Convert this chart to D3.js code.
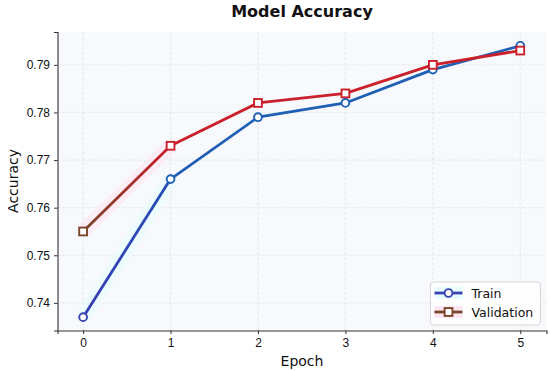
<!DOCTYPE html>
<html>
<head>
<meta charset="utf-8">
<script src="https://cdn.jsdelivr.net/npm/d3@7"></script>
<style>
  body { margin: 0; background: #fff; }
  svg { font-family: "DejaVu Sans", sans-serif; }
</style>
</head>
<body>
<svg id="chart" width="550" height="371"></svg>
<script>
  var epochs = [0, 1, 2, 3, 4, 5];
  var trainAcc = [0.737, 0.766, 0.779, 0.782, 0.789, 0.794];
  var valAcc = [0.755, 0.773, 0.782, 0.784, 0.790, 0.793];
  var yTicks = [0.74, 0.75, 0.76, 0.77, 0.78, 0.79];

  var svg = d3.select("#chart");
  var margin = { left: 57.5, right: 3.5, top: 32, bottom: 40.5 };
  var W = 550, H = 371;

  var x = d3.scaleLinear().domain([-0.293, 5.3]).range([margin.left, W - margin.right]);
  var y = d3.scaleLinear().domain([0.7342, 0.7969]).range([H - margin.bottom, margin.top]);

  // plot background
  svg.append("rect")
    .attr("x", margin.left).attr("y", margin.top)
    .attr("width", W - margin.right - margin.left)
    .attr("height", H - margin.bottom - margin.top)
    .attr("fill", "#f7f9fc");

  // grid
  var grid = svg.append("g").attr("stroke", "#dcdfe4").attr("stroke-dasharray", "3,2").attr("stroke-width", 0.7);
  grid.selectAll("line.gx").data(epochs).enter().append("line")
    .attr("x1", function(d) { return x(d); }).attr("x2", function(d) { return x(d); })
    .attr("y1", margin.top).attr("y2", H - margin.bottom);
  grid.selectAll("line.gy").data(yTicks).enter().append("line")
    .attr("y1", function(d) { return y(d); }).attr("y2", function(d) { return y(d); })
    .attr("x1", margin.left).attr("x2", W - margin.right);

  // axes
  var xAxis = svg.append("g")
    .attr("transform", "translate(0," + (H - margin.bottom) + ")")
    .call(d3.axisBottom(x).tickValues(epochs).tickFormat(d3.format("d")).tickSizeOuter(0).tickSize(3.5).tickPadding(4));
  var yAxis = svg.append("g")
    .attr("transform", "translate(" + margin.left + ",0)")
    .call(d3.axisLeft(y).tickValues(yTicks).tickFormat(d3.format(".2f")).tickSizeOuter(0).tickSize(3.5).tickPadding(4));
  [xAxis, yAxis].forEach(function(a) {
    a.select(".domain").attr("stroke", "#333").attr("stroke-width", 1.1);
    a.selectAll(".tick line").attr("stroke", "#333");
    a.selectAll(".tick text").attr("fill", "#111").style("font-size", "12px");
  });

  // gradients for the first segment
  var defs = svg.append("defs");
  function grad(id, i, data, c0, c1) {
    var g = defs.append("linearGradient").attr("id", id)
      .attr("gradientUnits", "userSpaceOnUse")
      .attr("x1", x(epochs[i])).attr("y1", y(data[i]))
      .attr("x2", x(epochs[i + 1])).attr("y2", y(data[i + 1]));
    g.append("stop").attr("offset", "0%").attr("stop-color", c0);
    g.append("stop").attr("offset", "100%").attr("stop-color", c1);
  }
  grad("gTrain", 0, trainAcc, "#3a3cb2", "#2150b4");
  grad("gVal", 0, valAcc, "#7a4528", "#c8202a");

  var series = [
    { name: "Train", data: trainAcc, color: "#1f5fb4", first: "url(#gTrain)", legend: "#3a45b2", halo: "#e8fbfd", shape: "circle" },
    { name: "Validation", data: valAcc, color: "#c9202b", first: "url(#gVal)", legend: "#7a4528", halo: "#fde8f2", shape: "square" }
  ];

  var line = d3.line()
    .x(function(d) { return x(d[0]); })
    .y(function(d) { return y(d[1]); });

  // faint halo round the first segments
  series.forEach(function(s) {
    var pts = epochs.map(function(e, i) { return [e, s.data[i]]; });
    svg.append("path").datum(pts.slice(0, 2))
      .attr("d", line).attr("fill", "none")
      .attr("stroke", s.halo).attr("stroke-width", 14).attr("stroke-opacity", 0.8);
  });

  series.forEach(function(s) {
    var pts = epochs.map(function(e, i) { return [e, s.data[i]]; });
    svg.append("path").datum(pts.slice(1))
      .attr("d", line).attr("fill", "none")
      .attr("stroke", s.color).attr("stroke-width", 2.8).attr("stroke-linejoin", "round");
    svg.append("path").datum(pts.slice(0, 2))
      .attr("d", line).attr("fill", "none")
      .attr("stroke", s.first).attr("stroke-width", 2.8);
  });

  function drawMarker(g, shape, cx, cy, color) {
    if (shape === "circle") {
      g.append("circle").attr("cx", cx).attr("cy", cy).attr("r", 3.9)
        .attr("fill", "#fff").attr("stroke", color).attr("stroke-width", 1.9);
    } else {
      g.append("rect").attr("x", cx - 3.9).attr("y", cy - 3.9).attr("width", 7.8).attr("height", 7.8)
        .attr("fill", "#fff").attr("stroke", color).attr("stroke-width", 1.9);
    }
  }

  series.forEach(function(s) {
    var g = svg.append("g");
    s.data.forEach(function(v, i) {
      drawMarker(g, s.shape, x(epochs[i]), y(v), i === 0 ? s.legend : s.color);
    });
  });

  // title and labels
  svg.append("text").attr("x", 302).attr("y", 17).attr("text-anchor", "middle")
    .style("font-size", "16px").style("font-weight", "bold").attr("fill", "#111").text("Model Accuracy");
  svg.append("text").attr("x", 302).attr("y", 366).attr("text-anchor", "middle")
    .style("font-size", "14px").attr("fill", "#111").text("Epoch");
  svg.append("text").attr("transform", "translate(17.5," + 181 + ") rotate(-90)").attr("text-anchor", "middle")
    .style("font-size", "14px").attr("fill", "#111").text("Accuracy");

  // legend
  var lg = svg.append("g").attr("transform", "translate(430.5,282)");
  lg.append("rect").attr("width", 110).attr("height", 43).attr("rx", 3)
    .attr("fill", "#fff").attr("fill-opacity", 0.85).attr("stroke", "#ccc").attr("stroke-width", 0.8);
  series.forEach(function(s, i) {
    var cy = 11 + i * 19;
    lg.append("rect").attr("x", 4).attr("y", cy - 6).attr("width", 28).attr("height", 12).attr("fill", s.halo);
    lg.append("line").attr("x1", 4).attr("x2", 32).attr("y1", cy).attr("y2", cy)
      .attr("stroke", s.legend).attr("stroke-width", 2.8);
    drawMarker(lg, s.shape, 18, cy, s.legend);
    lg.append("text").attr("x", 41).attr("y", cy + 4.5).style("font-size", "12.5px").attr("fill", "#111").text(s.name);
  });
</script>
</body>
</html>
